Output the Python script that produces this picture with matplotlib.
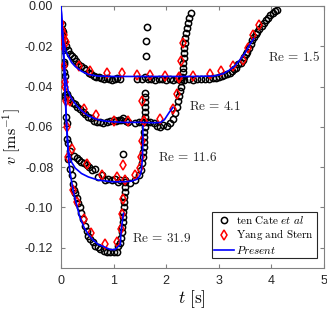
import matplotlib
matplotlib.use("Agg")
import matplotlib.pyplot as plt
from matplotlib.ticker import FormatStrFormatter

plt.rcParams['mathtext.fontset'] = 'cm'
plt.rcParams['font.family'] = ['Liberation Sans', 'DejaVu Sans']
plt.rcParams['axes.unicode_minus'] = False

# ten Cate et al (experiment), Re = 1.5, 4.1, 11.6, 31.9
tc15_t = [0.01, 0.03, 0.06, 0.09, 0.13, 0.17, 0.21, 0.25, 0.29, 0.33, 0.38, 0.43, 0.48, 0.53, 0.57, 0.62,
          0.67, 0.72, 0.77, 0.82, 0.87, 0.92, 0.97, 1.02, 1.07, 1.12, 1.45, 1.55, 1.60, 1.65, 1.72, 1.79,
          1.86, 1.93, 2.00, 2.07, 2.14, 2.21, 2.28, 2.35, 2.43, 2.51, 2.59, 2.67, 2.75, 2.82, 2.89, 2.95,
          3.01, 3.06, 3.11, 3.16, 3.21, 3.26, 3.30, 3.34, 3.38, 3.42, 3.46, 3.49, 3.52, 3.55, 3.58, 3.61,
          3.64, 3.68, 3.71, 3.74, 3.78, 3.82, 3.86, 3.90, 3.94, 3.98, 4.03, 4.08, 4.12]
tc15_v = [-0.009, -0.013, -0.017, -0.020, -0.022, -0.024, -0.025, -0.026, -0.0275, -0.029, -0.030, -0.031,
          -0.032, -0.0335, -0.034, -0.035, -0.0355, -0.0355, -0.036, -0.0365, -0.036, -0.0365, -0.037,
          -0.0365, -0.036, -0.0365, -0.0365, -0.0362, -0.0355, -0.0362, -0.0365, -0.0368, -0.0362, -0.0365,
          -0.037, -0.0365, -0.0368, -0.0362, -0.0365, -0.0368, -0.0365, -0.0368, -0.0365, -0.0362, -0.0365,
          -0.0362, -0.036, -0.0358, -0.0355, -0.035, -0.0345, -0.034, -0.0333, -0.0324, -0.0315, -0.0307,
          -0.029, -0.0282, -0.027, -0.0255, -0.024, -0.0228, -0.021, -0.019, -0.017, -0.0155, -0.014,
          -0.0128, -0.0115, -0.010, -0.0085, -0.007, -0.0058, -0.0045, -0.0033, -0.0025, -0.0018]

tc41_t = [0.02, 0.04, 0.06, 0.08, 0.11, 0.14, 0.17, 0.22, 0.27, 0.31, 0.36, 0.41, 0.46, 0.52, 0.57, 0.62,
          0.68, 0.74, 0.80, 0.87, 0.94, 1.00, 1.05, 1.10, 1.15, 1.19, 1.23, 1.28, 1.40, 1.48, 1.55, 1.64,
          1.70, 1.77, 1.83, 1.89, 1.95, 2.02, 2.08, 2.14, 2.18, 2.20, 2.22, 2.24, 2.26, 2.28, 2.29, 2.31,
          2.32, 2.33, 2.33, 2.34, 2.35, 2.35, 2.36, 2.37, 2.38, 2.40, 2.42, 2.44, 2.47]
tc41_v = [-0.013, -0.021, -0.029, -0.035, -0.0438, -0.045, -0.0463, -0.048, -0.0488, -0.050, -0.051,
          -0.0525, -0.0537, -0.0552, -0.0558, -0.0572, -0.0575, -0.0578, -0.058, -0.0578, -0.0572, -0.0565,
          -0.057, -0.0568, -0.0565, -0.0558, -0.057, -0.0575, -0.058, -0.0578, -0.0578, -0.0575, -0.0578,
          -0.058, -0.0594, -0.060, -0.059, -0.0594, -0.058, -0.0562, -0.053, -0.050, -0.047, -0.0445,
          -0.042, -0.040, -0.0375, -0.0355, -0.033, -0.031, -0.0285, -0.026, -0.0235, -0.021, -0.0185,
          -0.016, -0.0135, -0.011, -0.0085, -0.006, -0.0036]

tc116_t = [0.02, 0.05, 0.08, 0.11, 0.14, 0.18, 0.24, 0.30, 0.35, 0.39, 0.44, 0.49, 0.54, 0.59, 0.65, 0.71,
           0.78, 0.84, 0.90, 0.97, 1.03, 1.09, 1.13, 1.22, 1.32, 1.41, 1.48, 1.53, 1.54, 1.56, 1.57, 1.58,
           1.59, 1.59, 1.59, 1.60, 1.59, 1.60, 1.60, 1.60, 1.60, 1.60, 1.60, 1.61, 1.62, 1.63]
tc116_v = [-0.012, -0.028, -0.045, -0.058, -0.068, -0.072, -0.0745, -0.0755, -0.0765, -0.0775, -0.078,
           -0.079, -0.080, -0.0816, -0.0808, -0.0849, -0.084, -0.0865, -0.0857, -0.0865, -0.0857, -0.0873,
           -0.0865, -0.0865, -0.088, -0.0865, -0.084, -0.0815, -0.078, -0.075, -0.0726, -0.070, -0.0676,
           -0.065, -0.0625, -0.060, -0.0575, -0.055, -0.0525, -0.050, -0.0475, -0.045, -0.043, -0.025,
           -0.0175, -0.0103]

tc319_t = [0.02, 0.04, 0.06, 0.08, 0.10, 0.12, 0.14, 0.17, 0.20, 0.22, 0.24, 0.27, 0.30, 0.33, 0.36, 0.39,
           0.42, 0.46, 0.49, 0.52, 0.56, 0.60, 0.65, 0.70, 0.75, 0.81, 0.88, 0.94, 1.00, 1.06, 1.09, 1.12,
           1.14, 1.16, 1.17, 1.18, 1.19, 1.19, 1.20, 1.20, 1.20, 1.21, 1.21, 1.21, 1.19]
tc319_v = [-0.012, -0.022, -0.033, -0.044, -0.055, -0.066, -0.076, -0.081, -0.084, -0.0885, -0.0915,
           -0.093, -0.0955, -0.098, -0.100, -0.103, -0.106, -0.1095, -0.112, -0.1145, -0.1155, -0.117,
           -0.119, -0.1195, -0.1205, -0.1218, -0.1222, -0.1222, -0.1222, -0.1222, -0.1194, -0.1175, -0.115,
           -0.1125, -0.110, -0.1075, -0.105, -0.1025, -0.100, -0.0975, -0.095, -0.0925, -0.090, -0.0875,
           -0.0735]

# Yang and Stern
ys15_t = [0.00, 0.02, 0.05, 0.09, 0.35, 0.55, 0.87, 1.16, 1.44, 1.70, 1.98, 2.25, 2.51, 2.83, 3.05, 3.28,
          3.46, 3.56, 3.66, 3.78]
ys15_v = [-0.0085, -0.012, -0.0145, -0.018, -0.030, -0.0324, -0.0335, -0.0335, -0.0345, -0.0345, -0.0348,
          -0.0355, -0.0348, -0.034, -0.0324, -0.0299, -0.0268, -0.021, -0.0143, -0.0095]
ys41_t = [0.03, 0.08, 0.17, 0.43, 0.66, 1.00, 1.28, 1.59, 1.89, 2.13, 2.21, 2.25, 2.29, 2.33]
ys41_v = [-0.020, -0.038, -0.047, -0.0512, -0.054, -0.057, -0.057, -0.0572, -0.056, -0.051, -0.0438,
          -0.0356, -0.0274, -0.0184]
ys116_t = [0.03, 0.07, 0.12, 0.20, 0.49, 0.78, 1.07, 1.22, 1.41, 1.51, 1.53, 1.55, 1.59, 1.55]
ys116_v = [-0.018, -0.040, -0.060, -0.071, -0.0783, -0.084, -0.0849, -0.0865, -0.084, -0.0805, -0.075,
           -0.067, -0.057, -0.047]
ys319_t = [0.03, 0.06, 0.09, 0.14, 0.235, 0.30, 0.43, 0.57, 0.84, 1.07, 1.15, 1.17, 1.18, 1.19]
ys319_v = [-0.016, -0.030, -0.047, -0.075, -0.0915, -0.0975, -0.106, -0.113, -0.118, -0.117, -0.111,
           -0.1035, -0.096, -0.079]

# Present simulation
pr15_t = [0, 0.01, 0.03, 0.05, 0.10, 0.15, 0.20, 0.27, 0.39, 0.52, 0.70, 1.0, 1.5, 2.0, 2.5, 2.9, 3.0,
          3.1, 3.2, 3.3, 3.4, 3.5, 3.6, 3.67]
pr15_v = [0, -0.006, -0.013, -0.018, -0.023, -0.0255, -0.028, -0.030, -0.0324, -0.034, -0.0348, -0.035,
          -0.035, -0.035, -0.035, -0.0348, -0.0343, -0.0335, -0.032, -0.030, -0.027, -0.0235, -0.019,
          -0.0162]
pr41_t = [0, 0.01, 0.03, 0.05, 0.08, 0.11, 0.14, 0.19, 0.24, 0.30, 0.36, 0.44, 0.52, 0.62, 0.71, 0.85,
          0.97, 1.2, 1.5, 1.79, 1.90, 1.97, 2.02, 2.07, 2.11, 2.13]
pr41_v = [0, -0.006, -0.015, -0.024, -0.034, -0.039, -0.0425, -0.0455, -0.0475, -0.0495, -0.0512, -0.053,
          -0.0545, -0.0557, -0.0565, -0.0572, -0.0575, -0.0578, -0.0578, -0.058, -0.0578, -0.0565, -0.0545,
          -0.0525, -0.0512, -0.0504]
pr116_t = [0, 0.01, 0.03, 0.05, 0.08, 0.11, 0.14, 0.20, 0.27, 0.39, 0.52, 0.71, 0.97, 1.22, 1.35, 1.45,
           1.50, 1.53, 1.55, 1.56, 1.56]
pr116_v = [0, -0.006, -0.015, -0.025, -0.044, -0.060, -0.072, -0.0775, -0.0805, -0.0832, -0.0849, -0.0865,
           -0.0873, -0.0873, -0.087, -0.086, -0.0845, -0.082, -0.0759, -0.068, -0.0595]
pr319_t = [0, 0.01, 0.03, 0.05, 0.08, 0.11, 0.14, 0.17, 0.20, 0.235, 0.30, 0.36, 0.44, 0.52, 0.60, 0.71,
           0.81, 0.94, 1.03, 1.09, 1.13, 1.14, 1.16, 1.18, 1.19]
pr319_v = [0, -0.006, -0.015, -0.025, -0.045, -0.062, -0.075, -0.082, -0.087, -0.092, -0.099, -0.105,
           -0.110, -0.1135, -0.116, -0.1185, -0.1195, -0.121, -0.121, -0.1194, -0.1186, -0.1137, -0.1087,
           -0.1046, -0.103]

re_labels = [r'$\mathrm{Re}\,=\,1.5$', r'$\mathrm{Re}\,=\,4.1$', r'$\mathrm{Re}\,=\,11.6$',
             r'$\mathrm{Re}\,=\,31.9$']
re_label_t = [4.44, 2.94, 2.41, 1.91]
re_label_v = [-0.0252, -0.050, -0.0752, -0.1154]

fig = plt.figure(figsize=(3.27, 3.09), dpi=100)
ax = fig.add_axes([61 / 327, 41.3 / 309, 262.5 / 327, 261.7 / 309])

tc = [(tc15_t, tc15_v), (tc41_t, tc41_v), (tc116_t, tc116_v), (tc319_t, tc319_v)]
ys = [(ys15_t, ys15_v), (ys41_t, ys41_v), (ys116_t, ys116_v), (ys319_t, ys319_v)]
pr = [(pr15_t, pr15_v), (pr41_t, pr41_v), (pr116_t, pr116_v), (pr319_t, pr319_v)]

for i in range(4):
    ax.plot(tc[i][0], tc[i][1], 'o', mfc='none', mec='k', ms=4.5, mew=1.1, zorder=2,
            label=r'$\mathrm{ten\ Cate}\ et\ al$' if i == 0 else None)
for i in range(4):
    ax.plot(ys[i][0], ys[i][1], 'd', mfc='none', mec='r', ms=5, mew=1.1, zorder=3,
            label=r'$\mathrm{Yang\ and\ Stern}$' if i == 0 else None)
for i in range(4):
    ax.plot(pr[i][0], pr[i][1], '-', color='b', lw=1.2, zorder=4,
            label=r'$Present$' if i == 0 else None)

for lab, t, v in zip(re_labels, re_label_t, re_label_v):
    ax.text(t, v, lab, fontsize=9.5, ha='center', va='center', color='0.15')

ax.set_xlim(0, 5)
ax.set_ylim(-0.13, 0)
ax.set_xticks([0, 1, 2, 3, 4, 5])
ax.set_yticks([0, -0.02, -0.04, -0.06, -0.08, -0.10, -0.12])
ax.yaxis.set_major_formatter(FormatStrFormatter('%.2f'))
ax.tick_params(direction='in', top=True, right=True, length=3, width=0.8, color='0.5',
               labelsize=9, labelcolor='0.15')
ax.tick_params(axis='y', pad=5.5)
ax.tick_params(axis='x', pad=5)
for s in ax.spines.values():
    s.set_color('0.5')
    s.set_linewidth(0.8)

ax.set_xlabel(r'$t\ [\mathrm{s}]$', fontsize=12.5, labelpad=1)
ax.set_ylabel(r'$v\ [\mathrm{ms}^{-1}]$', fontsize=11.5)
ax.yaxis.set_label_coords(-0.145, 0.5)

leg = ax.legend(loc='lower right', bbox_to_anchor=(0.974, 0.036), borderaxespad=0, fontsize=8,
                fancybox=False, edgecolor='0.15', framealpha=1, handlelength=1.75, handletextpad=0.2,
                labelspacing=0.1, borderpad=0.25)
leg.get_frame().set_linewidth(0.8)

fig.savefig('out.png', dpi=100)
